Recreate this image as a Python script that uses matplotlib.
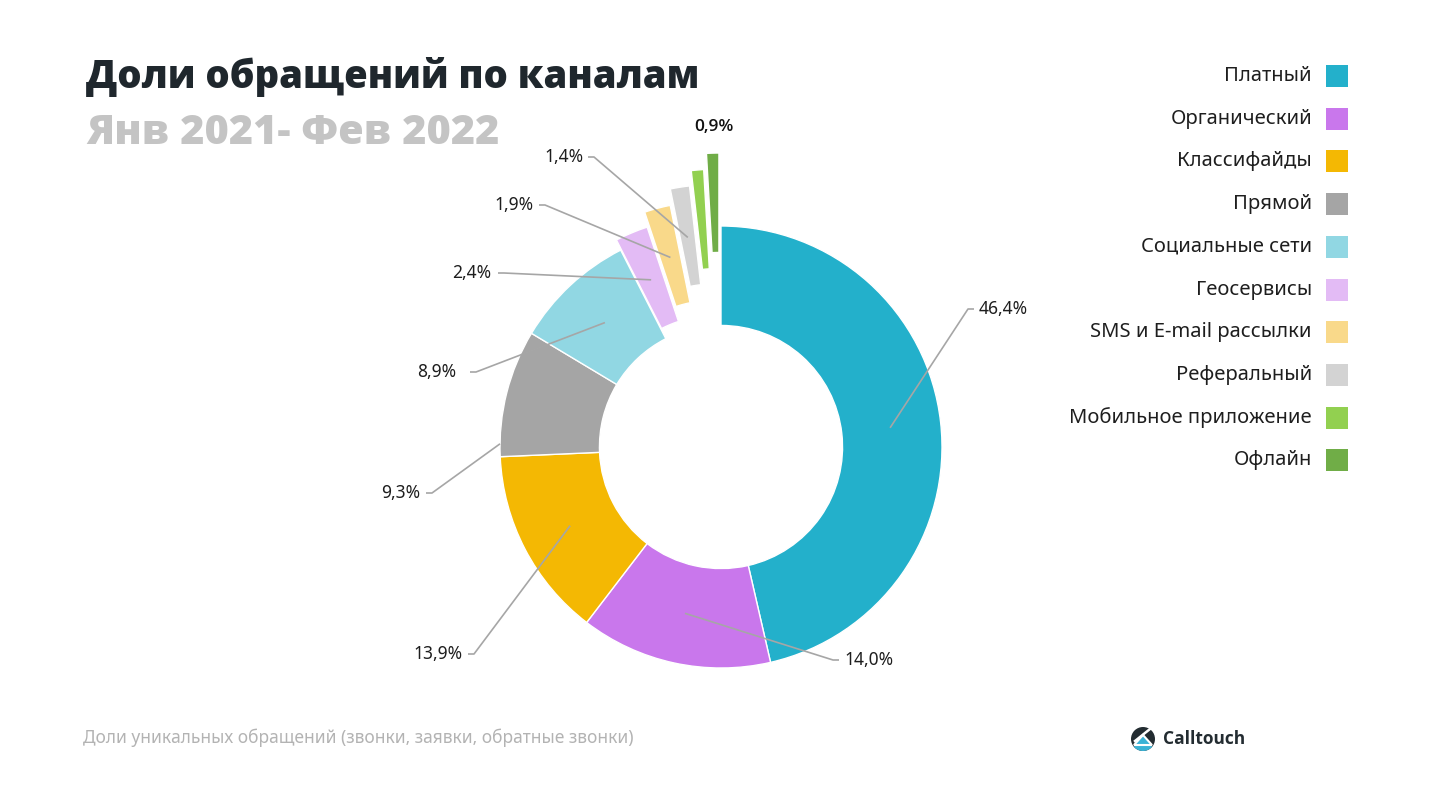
import matplotlib.pyplot as plt
from matplotlib.patches import Rectangle, Circle, Wedge, Polygon
import numpy as np

# data
channels = ['Платный', 'Органический', 'Классифайды', 'Прямой', 'Социальные сети',
            'Геосервисы', 'SMS и E-mail рассылки', 'Реферальный',
            'Мобильное приложение', 'Офлайн']
shares = [46.4, 14.0, 13.9, 9.3, 8.9, 2.4, 1.9, 1.4, 0.9, 0.9]
colors = ['#23b0cb', '#c977ec', '#f4b803', '#a5a5a5', '#91d7e3',
          '#e3bbf5', '#f9d98a', '#d3d3d3', '#92d050', '#70ad47']

title = 'Доли обращений по каналам'
subtitle = 'Янв 2021- Фев 2022'
footnote = 'Доли уникальных обращений (звонки, заявки, обратные звонки)'

W, H = 1436, 808
plt.rcParams['font.family'] = ['Noto Sans', 'DejaVu Sans']

fig = plt.figure(figsize=(W / 100, H / 100), dpi=100)
ax = fig.add_axes([0, 0, 1, 1])

# pie in pixel-like coords (y down)
cx, cy, R = 721, 447, 221
explode = [0, 0, 0, 0, 0, 11, 26, 42, 57, 73]
wedges, _ = ax.pie(shares, colors=colors, explode=explode, center=(cx, cy), radius=R,
                   startangle=270, counterclock=True,
                   wedgeprops=dict(width=R * 0.45, edgecolor='white', linewidth=1))
ax.set_xlim(0, W)
ax.set_ylim(H, 0)
ax.set_aspect('equal')
ax.axis('off')

# labels: (index, position along wedge, radius frac, elbow x, y, text x, ha)
label_layout = [
    (0, 0.5, 0.77, 968, 309, 979, 'left'),
    (1, 0.5, 0.77, 833, 660, 844, 'left'),
    (2, 0.5, 0.77, 474, 654, 463, 'right'),
    (3, 0.1, 1.0, 432, 493, 420, 'right'),
    (4, 0.5, 0.77, 476, 372, 456, 'right'),
    (5, 0.5, 0.77, 504, 273, 491, 'right'),
    (6, 0.5, 0.77, 545, 205, 534, 'right'),
    (7, 0.5, 0.77, 594, 157, 584, 'right'),
]
line_col = '#a6a6a6'
for i, frac, rf, ex, ey, tx, ha in label_layout:
    w = wedges[i]
    th = np.deg2rad(w.theta1 + frac * (w.theta2 - w.theta1))
    ax0 = w.center[0] + rf * w.r * np.cos(th)
    ay0 = w.center[1] + rf * w.r * np.sin(th)
    hx = ex + (6 if ha == 'left' else -6)
    ax.plot([ax0, ex, hx], [ay0, ey, ey], color=line_col, lw=1.2, solid_capstyle='butt')
    txt = f'{shares[i]:.1f}'.replace('.', ',') + '%'
    ax.text(tx, ey, txt, ha=ha, va='center', fontsize=12.5, color='#1e1e1e')

ax.text(714, 127, f'{shares[8]:.1f}'.replace('.', ',') + '%', ha='center', va='center',
        fontsize=12.5, color='#111111', fontweight='semibold',
        family=['Open Sans', 'DejaVu Sans'])

# titles
ax.text(86, 77, title, ha='left', va='center', fontsize=27.5, fontweight='heavy',
        color='#1f272d', family=['Open Sans', 'DejaVu Sans'])
ax.text(86, 134, subtitle, ha='left', va='center', fontsize=29.8, fontweight='heavy',
        color='#c4c4c4', family=['Open Sans', 'DejaVu Sans'])

# legend
leg_y0, leg_dy = 76, 42.7
for k, (name, col) in enumerate(zip(channels, colors)):
    y = leg_y0 + k * leg_dy
    ax.add_patch(Rectangle((1326, y - 11), 22, 22, facecolor=col, edgecolor='none'))
    ax.text(1312, y, name, ha='right', va='center', fontsize=14.5, color='#1e1e1e')

# footnote
ax.text(83, 738, footnote, ha='left', va='center', fontsize=12.5, color='#b3b3b3')

# logo
lx, ly = 1143, 739
ax.add_patch(Circle((lx, ly), 12, facecolor='#232c31', edgecolor='none'))
ax.add_patch(Wedge((lx, ly), 12, 40, 140, facecolor='#3bb3d6', edgecolor='none'))
ax.add_patch(Polygon([(lx - 9, ly + 6), (lx, ly - 4), (lx + 9, ly + 6)], closed=True,
                     facecolor='#3bb3d6', edgecolor='white', lw=1.5))
ax.plot([lx - 8, lx + 7], [ly + 2, ly - 10], color='white', lw=1.8)
ax.text(1163, 739, 'Calltouch', ha='left', va='center', fontsize=12.5, fontweight='bold',
        color='#232c31', family=['Open Sans', 'DejaVu Sans'])

fig.savefig('out.png', dpi=100)
